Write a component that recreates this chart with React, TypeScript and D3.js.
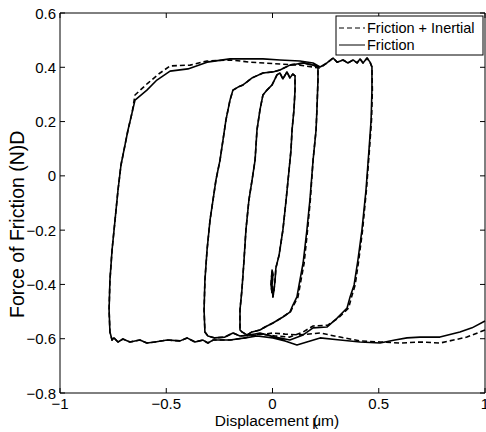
import React from 'react';
import * as d3 from 'd3';

const xTicks = [-1, -0.5, 0, 0.5, 1];
const yTicks = [-0.8, -0.6, -0.4, -0.2, 0, 0.2, 0.4, 0.6];
const legendLabels = ['Friction + Inertial', 'Friction'];
const xLabelA = 'Displacement (';
const xLabelB = 'μm)';
const yLabel = 'Force of Friction (N)D';

const friction: [number, number][] = [
  [1.0, -0.535], [0.939, -0.56], [0.882, -0.575], [0.788, -0.594], [0.694, -0.594], [0.633, -0.597],
  [0.576, -0.605], [0.506, -0.616], [0.412, -0.612], [0.318, -0.605], [0.224, -0.597], [0.115, -0.623],
  [0.059, -0.608], [0.002, -0.597], [-0.073, -0.59], [-0.129, -0.597], [-0.2, -0.605], [-0.247, -0.605],
  [-0.28, -0.605], [-0.304, -0.616], [-0.327, -0.605], [-0.365, -0.612], [-0.402, -0.597], [-0.435, -0.608],
  [-0.496, -0.605], [-0.553, -0.612], [-0.591, -0.616], [-0.624, -0.605], [-0.671, -0.612], [-0.704, -0.601],
  [-0.727, -0.612], [-0.746, -0.597], [-0.755, -0.605], [-0.765, -0.575],
  [-0.769, -0.494], [-0.765, -0.384], [-0.755, -0.273], [-0.741, -0.163], [-0.727, -0.052], [-0.713, 0.04],
  [-0.694, 0.114], [-0.68, 0.169], [-0.661, 0.232], [-0.647, 0.279], [-0.591, 0.316], [-0.544, 0.353],
  [-0.482, 0.386], [-0.398, 0.394], [-0.308, 0.419], [-0.2, 0.431], [-0.106, 0.431], [-0.045, 0.431],
  [0.035, 0.427], [0.129, 0.423], [0.191, 0.416], [0.224, 0.401], [0.256, 0.416], [0.285, 0.434],
  [0.304, 0.419], [0.332, 0.427], [0.355, 0.416], [0.379, 0.427], [0.398, 0.416], [0.412, 0.431],
  [0.426, 0.416], [0.445, 0.434], [0.459, 0.419], [0.468, 0.401],
  [0.468, 0.316], [0.464, 0.206], [0.454, 0.095], [0.44, -0.052], [0.421, -0.199], [0.402, -0.31],
  [0.384, -0.402], [0.365, -0.446], [0.351, -0.487], [0.304, -0.524], [0.256, -0.557], [0.191, -0.56],
  [0.144, -0.586], [0.082, -0.605], [0.012, -0.594], [-0.059, -0.579], [-0.106, -0.586], [-0.153, -0.59],
  [-0.186, -0.579], [-0.224, -0.594], [-0.271, -0.597], [-0.304, -0.59], [-0.318, -0.575],
  [-0.322, -0.494], [-0.318, -0.384], [-0.308, -0.273], [-0.294, -0.163], [-0.28, -0.089], [-0.266, -0.015],
  [-0.247, 0.058], [-0.233, 0.132], [-0.219, 0.206], [-0.2, 0.279], [-0.186, 0.316], [-0.162, 0.327],
  [-0.139, 0.335], [-0.12, 0.346], [-0.096, 0.361], [-0.045, 0.379], [0.002, 0.383], [0.035, 0.39],
  [0.082, 0.408], [0.115, 0.412], [0.144, 0.416], [0.191, 0.408], [0.214, 0.401],
  [0.214, 0.353], [0.209, 0.243], [0.205, 0.169], [0.191, 0.058], [0.176, -0.089], [0.162, -0.199],
  [0.144, -0.321], [0.125, -0.402], [0.115, -0.446], [0.096, -0.476], [0.082, -0.502], [0.049, -0.52],
  [0.002, -0.542], [-0.035, -0.557], [-0.059, -0.568], [-0.096, -0.575], [-0.12, -0.586], [-0.144, -0.575],
  [-0.153, -0.568],
  [-0.153, -0.494], [-0.144, -0.421], [-0.134, -0.31], [-0.125, -0.199], [-0.111, -0.089], [-0.096, -0.015],
  [-0.082, 0.058], [-0.073, 0.169], [-0.059, 0.243], [-0.045, 0.298], [-0.026, 0.316], [-0.002, 0.335],
  [0.021, 0.372], [0.035, 0.379], [0.049, 0.357], [0.068, 0.383], [0.082, 0.361], [0.096, 0.375],
  [0.106, 0.368],
  [0.106, 0.316], [0.101, 0.243], [0.092, 0.169], [0.087, 0.095], [0.078, 0.022], [0.064, -0.089],
  [0.049, -0.199], [0.031, -0.292], [0.016, -0.339], [0.012, -0.384], [0.007, -0.421], [0.002, -0.446],
  [-0.002, -0.402], [0.002, -0.365], [-0.002, -0.347], [-0.007, -0.402], [-0.002, -0.432],
];

const frictionInertial: [number, number][] = [
  [1.0, -0.568], [0.915, -0.594], [0.788, -0.616], [0.694, -0.612], [0.6, -0.616], [0.506, -0.612],
  [0.412, -0.608], [0.318, -0.594], [0.224, -0.579], [0.129, -0.586], [0.059, -0.583], [0.002, -0.579],
  [-0.073, -0.586], [-0.129, -0.597], [-0.2, -0.605], [-0.247, -0.605], [-0.28, -0.605], [-0.304, -0.616],
  [-0.327, -0.605], [-0.365, -0.612], [-0.402, -0.597], [-0.435, -0.608], [-0.496, -0.605], [-0.553, -0.612],
  [-0.591, -0.616], [-0.624, -0.605], [-0.671, -0.612], [-0.704, -0.601], [-0.727, -0.612], [-0.746, -0.597],
  [-0.755, -0.605], [-0.765, -0.575],
  [-0.769, -0.494], [-0.765, -0.384], [-0.755, -0.273], [-0.741, -0.163], [-0.727, -0.052], [-0.713, 0.04],
  [-0.694, 0.114], [-0.68, 0.169], [-0.661, 0.232], [-0.647, 0.298], [-0.586, 0.342], [-0.529, 0.379],
  [-0.482, 0.405], [-0.388, 0.408], [-0.308, 0.423], [-0.2, 0.427], [-0.106, 0.419], [0.035, 0.412],
  [0.129, 0.408], [0.224, 0.397], [0.256, 0.416], [0.285, 0.434], [0.304, 0.419], [0.332, 0.427],
  [0.355, 0.416], [0.379, 0.427], [0.398, 0.416], [0.412, 0.431], [0.426, 0.416], [0.445, 0.434],
  [0.459, 0.419], [0.468, 0.401],
  [0.47, 0.316], [0.466, 0.206], [0.456, 0.095], [0.442, -0.052], [0.424, -0.199], [0.406, -0.31],
  [0.389, -0.402], [0.372, -0.446], [0.358, -0.487], [0.31, -0.524], [0.26, -0.55], [0.191, -0.553],
  [0.144, -0.575], [0.082, -0.594], [0.012, -0.59], [-0.059, -0.583], [-0.106, -0.586], [-0.153, -0.59],
  [-0.186, -0.579], [-0.224, -0.594], [-0.271, -0.597], [-0.304, -0.59], [-0.318, -0.575],
  [-0.322, -0.494], [-0.318, -0.384], [-0.308, -0.273], [-0.294, -0.163], [-0.28, -0.089], [-0.266, -0.015],
  [-0.247, 0.058], [-0.233, 0.132], [-0.219, 0.206], [-0.2, 0.279], [-0.186, 0.316], [-0.162, 0.327],
  [-0.139, 0.335], [-0.12, 0.346], [-0.096, 0.361], [-0.045, 0.379], [0.002, 0.383], [0.035, 0.39],
  [0.082, 0.408], [0.115, 0.412], [0.144, 0.416], [0.191, 0.408], [0.214, 0.401],
  [0.214, 0.353], [0.209, 0.243], [0.205, 0.169], [0.191, 0.058], [0.178, -0.089], [0.165, -0.199],
  [0.149, -0.321], [0.13, -0.402], [0.12, -0.446], [0.1, -0.476], [0.085, -0.5], [0.049, -0.52],
  [0.002, -0.542], [-0.035, -0.557], [-0.059, -0.568], [-0.096, -0.575], [-0.12, -0.586], [-0.144, -0.575],
  [-0.153, -0.568],
  [-0.153, -0.494], [-0.144, -0.421], [-0.134, -0.31], [-0.125, -0.199], [-0.111, -0.089], [-0.096, -0.015],
  [-0.082, 0.058], [-0.073, 0.169], [-0.059, 0.243], [-0.045, 0.298], [-0.026, 0.316], [-0.002, 0.335],
  [0.021, 0.372], [0.035, 0.379], [0.049, 0.357], [0.068, 0.383], [0.082, 0.361], [0.096, 0.375],
  [0.106, 0.368],
  [0.106, 0.316], [0.101, 0.243], [0.092, 0.169], [0.087, 0.095], [0.078, 0.022], [0.064, -0.089],
  [0.049, -0.199], [0.031, -0.292], [0.016, -0.339], [0.012, -0.384], [0.007, -0.421], [0.002, -0.446],
  [-0.002, -0.402], [0.002, -0.365], [-0.002, -0.347], [-0.007, -0.402], [-0.002, -0.432],
];

const FONT = '"Liberation Sans", Arial, Helvetica, sans-serif';

function fmt(v: number): string {
  if (v === 0) return '0';
  return (v < 0 ? '\u2212' : '') + String(Math.abs(v));
}

export default function App() {
  const W = 486;
  const H = 432;
  const left = 60, right = 485, top = 13, bottom = 393;
  const x = d3.scaleLinear().domain([-1, 1]).range([left, right]);
  const y = d3.scaleLinear().domain([-0.8, 0.6]).range([bottom, top]);
  const line = d3.line<[number, number]>().x(d => x(d[0])).y(d => y(d[1]));
  const tl = 5;
  const fs = 15;

  return (
    <svg width={W} height={H} style={{ position: 'absolute', left: 0, top: 0, background: '#fff' }}
      fontFamily={FONT}>
      <rect x={0} y={0} width={W} height={H} fill="#fff" />
      <path d={line(frictionInertial) || ''} fill="none" stroke="#000" strokeWidth={1.6}
        strokeDasharray="5,3" strokeLinejoin="round" />
      <path d={line(friction) || ''} fill="none" stroke="#000" strokeWidth={1.6} strokeLinejoin="round" />
      <path d={`M${left},${top}H${right}V${bottom}H${left}Z`} fill="none" stroke="#000" strokeWidth={1} />
      {xTicks.map(t => (
        <g key={'x' + t}>
          <line x1={x(t)} x2={x(t)} y1={bottom} y2={bottom - tl} stroke="#000" />
          <line x1={x(t)} x2={x(t)} y1={top} y2={top + tl} stroke="#000" />
          <text x={x(t)} y={409} textAnchor="middle" fontSize={fs}>{fmt(t)}</text>
        </g>
      ))}
      {yTicks.map(t => (
        <g key={'y' + t}>
          <line x1={left} x2={left + tl} y1={y(t)} y2={y(t)} stroke="#000" />
          <line x1={right} x2={right - tl} y1={y(t)} y2={y(t)} stroke="#000" />
          <text x={56} y={y(t)} textAnchor="end" dominantBaseline="central" fontSize={fs}>{fmt(t)}</text>
        </g>
      ))}
      <text x={277} y={426} textAnchor="middle" fontSize={15.5}>
        <tspan>{xLabelA}</tspan><tspan dx={-6}>{xLabelB}</tspan>
      </text>
      <text transform={`translate(24,318) rotate(-90)`} textAnchor="start" fontSize={19.5}>{yLabel}</text>
      <rect x={336} y={16} width={147} height={39} fill="#fff" stroke="#000" strokeWidth={1} />
      <line x1={339} x2={365} y1={28} y2={28} stroke="#000" strokeWidth={1} strokeDasharray="5,3" />
      <text x={367} y={28} dominantBaseline="central" fontSize={14.5}>{legendLabels[0]}</text>
      <line x1={339} x2={365} y1={45} y2={45} stroke="#000" strokeWidth={1} />
      <text x={367} y={45} dominantBaseline="central" fontSize={14.5}>{legendLabels[1]}</text>
    </svg>
  );
}
